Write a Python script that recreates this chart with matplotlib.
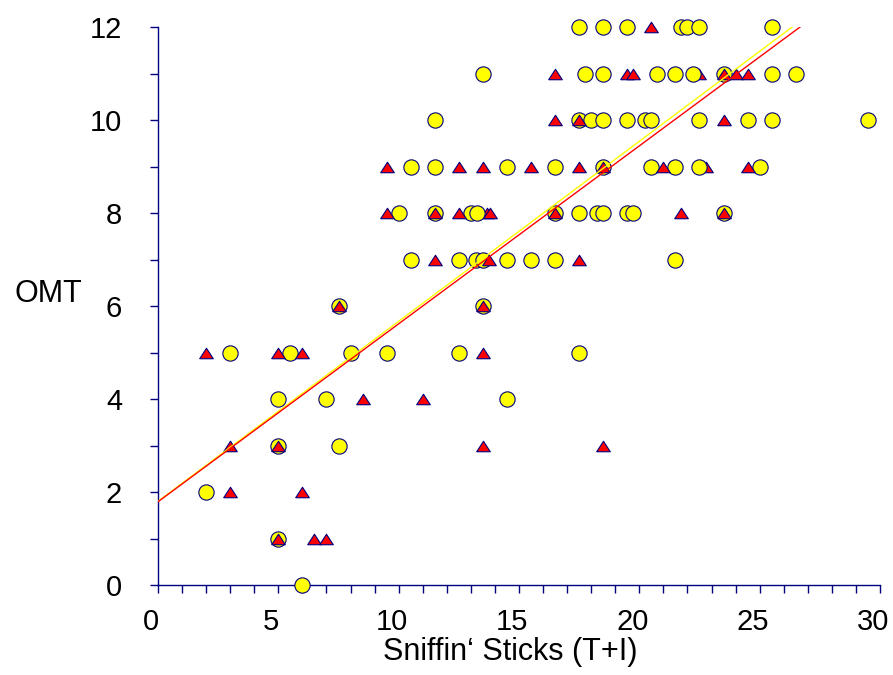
import matplotlib.pyplot as plt
import matplotlib.transforms as mtransforms
import numpy as np
from matplotlib.ticker import MultipleLocator

plt.rcParams['font.family'] = ['Liberation Sans', 'DejaVu Sans']

# yellow circles (x = Sniffin' Sticks T+I, y = OMT)
circ_x = [17.5, 18.5, 19.5, 21.75, 22, 22.5, 25.5,
          13.5, 17.75, 18.5, 20.75, 21.5, 22.25, 23.5, 25.5, 26.5,
          11.5, 17.5, 18, 18.5, 19.5, 20.25, 20.5, 22.5, 24.5, 25.5, 29.5,
          10.5, 11.5, 14.5, 16.5, 18.5, 20.5, 21.5, 22.5, 25,
          10, 11.5, 13, 13.25, 16.5, 17.5, 18.25, 18.5, 19.5, 19.75, 23.5,
          10.5, 12.5, 13.2, 13.5, 14.5, 15.5, 16.5, 21.5,
          7.5, 13.5,
          3, 5.5, 8, 9.5, 12.5, 17.5,
          5, 7, 14.5,
          5, 7.5,
          2,
          5,
          6]
circ_y = [12] * 7 + [11] * 9 + [10] * 11 + [9] * 9 + [8] * 11 + [7] * 8 \
    + [6] * 2 + [5] * 6 + [4] * 3 + [3] * 2 + [2] + [1] + [0]

# red triangles
tri_x = [20.5,
         16.5, 19.5, 19.75, 23.5, 24, 24.5,
         16.5, 17.5, 23.5,
         9.5, 12.5, 13.5, 15.5, 17.5, 18.5, 21, 24.5,
         9.5, 11.5, 12.5, 16.5, 21.75, 23.5,
         11.5, 13.75, 17.5,
         7.5, 13.5,
         2, 5, 6, 13.5,
         8.5, 11,
         3, 5, 13.5, 18.5,
         3, 6,
         5, 6.5, 7]
tri_y = [12] + [11] * 6 + [10] * 3 + [9] * 8 + [8] * 6 + [7] * 3 \
    + [6] * 2 + [5] * 4 + [4] * 2 + [3] * 4 + [2] * 2 + [1] * 3

# triangles partly hidden behind circles
tri_back_x = [22.5, 22.75, 13.65, 13.8]
tri_back_y = [11, 9, 8, 8]

# regression lines (end points)
red_line_x = [0, 26.68]
red_line_y = [1.79, 12]
yel_line_x = [0, 26.35]
yel_line_y = [1.80, 12]

navy = '#000080'
tri_marker = [(-1, -0.77), (1, -0.77), (0, 0.77), (-1, -0.77)]

fig = plt.figure(figsize=(8.93, 6.75), dpi=100)
ax = fig.add_axes([158 / 893, 90 / 675, 722 / 893, 558 / 675])

ax.plot(tri_back_x, tri_back_y, ls='none', marker=tri_marker, ms=9.8,
        mfc='#ff0000', mec=navy, mew=0.8, clip_on=False, zorder=2)
ax.plot(circ_x, circ_y, ls='none', marker='o', ms=11,
        mfc='#ffff00', mec=navy, mew=0.8, clip_on=False, zorder=3)
ax.plot(tri_x, tri_y, ls='none', marker=tri_marker, ms=9.8,
        mfc='#ff0000', mec=navy, mew=0.8, clip_on=False, zorder=4)
ax.plot(yel_line_x, yel_line_y, color='#ffff00', lw=1.0, zorder=5)
ax.plot(red_line_x, red_line_y, color='#ff0000', lw=1.0, zorder=6)

ax.set_xlim(0, 30)
ax.set_ylim(0, 12)
ax.xaxis.set_major_locator(MultipleLocator(5))
ax.xaxis.set_minor_locator(MultipleLocator(1))
ax.yaxis.set_major_locator(MultipleLocator(2))
ax.yaxis.set_minor_locator(MultipleLocator(1))

for s in ['top', 'right']:
    ax.spines[s].set_visible(False)
for s in ['left', 'bottom']:
    ax.spines[s].set_color(navy)
    ax.spines[s].set_linewidth(1.0)

ax.tick_params(which='both', direction='out', length=5.8, width=1.0,
               color=navy, labelsize=21, labelcolor='black')
ax.tick_params(axis='x', which='both', pad=11)
ax.tick_params(axis='y', which='both', pad=20)

# x tick labels sit a little left of their ticks
shift = mtransforms.ScaledTranslation(-7 / 100, 0, fig.dpi_scale_trans)
for lab in ax.xaxis.get_majorticklabels():
    lab.set_transform(lab.get_transform() + shift)

fig.text(510 / 893, 1 - 660 / 675, 'Sniffin\u2018 Sticks (T+I)',
         ha='center', va='baseline', fontsize=22)
fig.text(48 / 893, 1 - 301.5 / 675, 'OMT',
         ha='center', va='baseline', fontsize=22)

fig.savefig('out.png', dpi=100)
